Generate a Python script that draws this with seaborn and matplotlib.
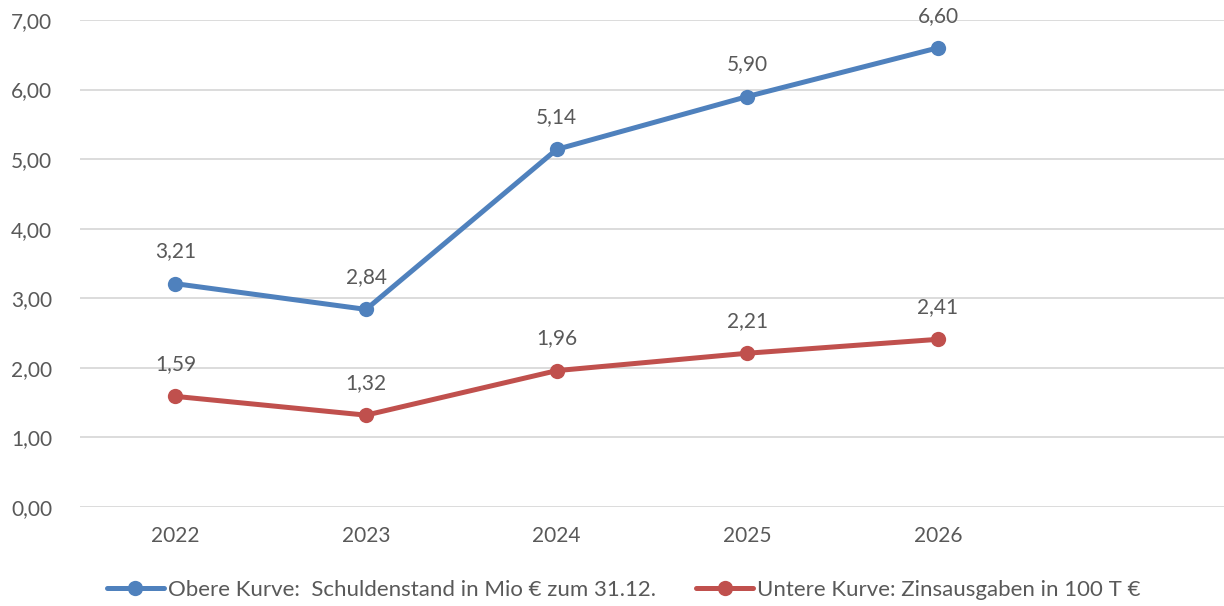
import pandas as pd
import matplotlib
matplotlib.use("Agg")
import matplotlib.pyplot as plt
import seaborn as sns

# Data
years = ["2022", "2023", "2024", "2025", "2026"]
schulden = [3.21, 2.84, 5.14, 5.90, 6.60]
zinsen = [1.59, 1.32, 1.96, 2.21, 2.41]
label_oben = "Obere Kurve:  Schuldenstand in Mio € zum 31.12."
label_unten = "Untere Kurve: Zinsausgaben in 100 T €"

df = pd.DataFrame({
    "Jahr": years * 2,
    "Wert": schulden + zinsen,
    "Serie": [label_oben] * len(years) + [label_unten] * len(years),
})
df["x"] = list(range(len(years))) * 2

sns.set_style("white")
plt.rcParams["font.family"] = ["Lato", "DejaVu Sans"]
text_color = "#595959"

fig = plt.figure(figsize=(12.24, 6.06), dpi=100)
ax = fig.add_axes([0.0654, 0.1634, 0.9346, 0.8036])

palette = {label_oben: "#4F81BD", label_unten: "#C0504D"}
sns.lineplot(data=df, x="x", y="Wert", hue="Serie", palette=palette,
             marker="o", markersize=11, markeredgewidth=0, linewidth=3.6,
             ax=ax, legend=True)

# Data labels
for serie, vals in [(label_oben, schulden), (label_unten, zinsen)]:
    for i, v in enumerate(vals):
        ax.annotate(f"{v:.2f}".replace(".", ","), (i, v), xytext=(0, 16),
                    textcoords="offset points", ha="center", va="bottom",
                    fontsize=15, color=text_color)

ax.set_xlim(-0.5, 5.5)
ax.set_ylim(0, 7)
ax.set_xticks(range(len(years)))
ax.set_xticklabels(years)
ax.set_yticks(range(0, 8))
ax.set_yticklabels([f"{v},00" for v in range(0, 8)])
ax.tick_params(axis="both", labelsize=15, colors=text_color, length=0)
ax.tick_params(axis="x", pad=14)
ax.tick_params(axis="y", pad=20)
ax.yaxis.grid(True, color="#D9D9D9", linewidth=1.3)
ax.set_axisbelow(True)
for s in ax.spines.values():
    s.set_visible(False)
ax.set_xlabel("")
ax.set_ylabel("")

handles, labels = ax.get_legend_handles_labels()
ax.legend(handles, labels, loc="center", bbox_to_anchor=(0.475, -0.17),
          ncol=2, frameon=False, fontsize=16, labelcolor=text_color,
          handlelength=2.6, handletextpad=0.15, columnspacing=1.8)

fig.savefig("out.png", dpi=100)
